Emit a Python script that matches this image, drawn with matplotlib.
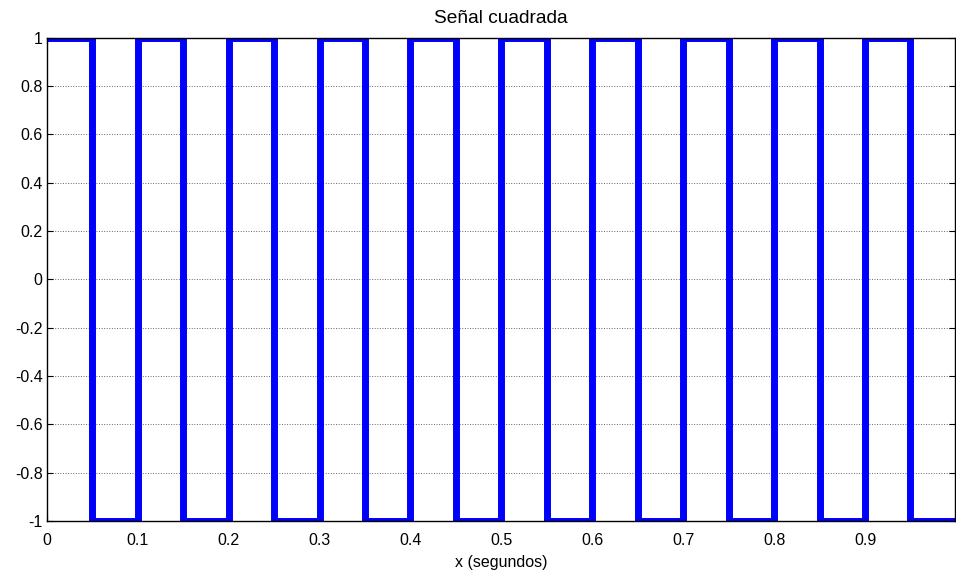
import matplotlib
matplotlib.use("Agg")
import matplotlib.pyplot as plt

# square wave: switching instants (s) and level held after each instant
edge_times = [0.0, 0.05, 0.1, 0.15, 0.2, 0.25, 0.3, 0.35, 0.4, 0.45,
              0.5, 0.55, 0.6, 0.65, 0.7, 0.75, 0.8, 0.85, 0.9, 0.95, 0.999]
levels = [1, -1, 1, -1, 1, -1, 1, -1, 1, -1,
          1, -1, 1, -1, 1, -1, 1, -1, 1, -1, -1]

x_ticks = [0, 0.1, 0.2, 0.3, 0.4, 0.5, 0.6, 0.7, 0.8, 0.9]
x_labels = ["0", "0.1", "0.2", "0.3", "0.4", "0.5", "0.6", "0.7", "0.8", "0.9"]
y_ticks = [-1, -0.8, -0.6, -0.4, -0.2, 0, 0.2, 0.4, 0.6, 0.8, 1]
y_labels = ["-1", "-0.8", "-0.6", "-0.4", "-0.2", "0", "0.2", "0.4", "0.6", "0.8", "1"]

plt.rcParams["font.family"] = ["Liberation Sans", "DejaVu Sans"]
plt.rcParams["font.size"] = 11.5

fig = plt.figure(figsize=(9.56, 5.73), dpi=100)
ax = fig.add_axes([0.049, 0.091, 0.950, 0.843])

ax.step(edge_times, levels, where="post", color="#0000ff", lw=5, solid_joinstyle="miter")

ax.set_xlim(0, 0.999)
ax.set_ylim(-1, 1)
ax.set_xticks(x_ticks)
ax.set_xticklabels(x_labels)
ax.set_yticks(y_ticks)
ax.set_yticklabels(y_labels)
ax.tick_params(direction="in", length=4, width=0.8, top=True, right=True)
ax.tick_params(axis="x", pad=9)
ax.tick_params(axis="y", pad=3)
ax.grid(True, axis="y", linestyle=":", color="#666666", lw=0.7)
for s in ax.spines.values():
    s.set_linewidth(1.0)
    s.set_color("black")

ax.set_xlabel("x (segundos)", labelpad=5)
ax.set_title("Señal cuadrada", pad=11)

fig.savefig("out.png", dpi=100)
